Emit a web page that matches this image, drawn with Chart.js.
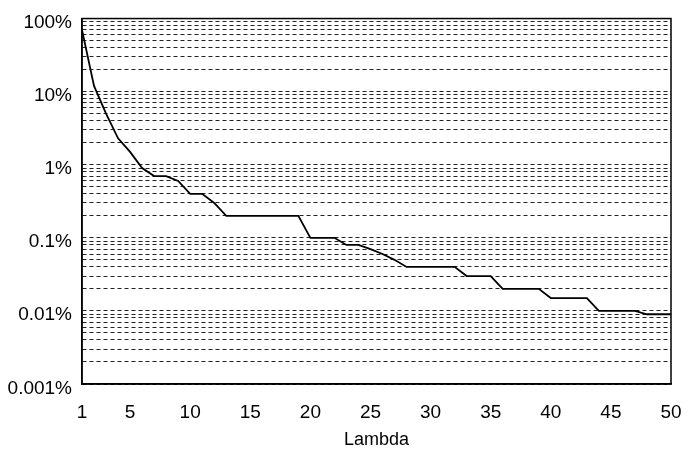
<!DOCTYPE html>
<html>
<head>
<meta charset="utf-8">
<script src="https://cdn.jsdelivr.net/npm/chart.js@4/dist/chart.umd.min.js"></script>
<style>
  html, body { margin: 0; padding: 0; background: #fff; }
  #wrap { width: 689px; height: 452px; }
</style>
</head>
<body>
<div id="wrap"><canvas id="lambdaChart"></canvas></div>
<script>
// Lambda values on the x axis
var lambdas = [1, 2, 3, 4, 5, 6, 7, 8, 9, 10,
    11, 12, 13, 14, 15, 16, 17, 18, 19, 20,
    21, 22, 23, 24, 25, 26, 27, 28, 29, 30,
    31, 32, 33, 34, 35, 36, 37, 38, 39, 40,
    41, 42, 43, 44, 45, 46, 47, 48, 49, 50];

// curve values, in percent
var percents = [70, 12, 5, 2.3, 1.5, 0.9, 0.7, 0.7, 0.6, 0.4,
    0.4, 0.3, 0.2, 0.2, 0.2, 0.2, 0.2, 0.2, 0.2, 0.1,
    0.1, 0.1, 0.08, 0.08, 0.07, 0.06, 0.05, 0.04, 0.04, 0.04,
    0.04, 0.04, 0.03, 0.03, 0.03, 0.02, 0.02, 0.02, 0.02, 0.015,
    0.015, 0.015, 0.015, 0.01, 0.01, 0.01, 0.01, 0.009, 0.009, 0.009];

var xTicks = [1, 5, 10, 15, 20, 25, 30, 35, 40, 45, 50];
var yDecades = [0.001, 0.01, 0.1, 1, 10, 100];
var yDecadeLabels = ['0.001%', '0.01%', '0.1%', '1%', '10%', '100%'];

// gridlines at 1..9 of every decade
var yGridSteps = [1, 2, 3, 4, 5, 6, 7, 8, 9];

var points = lambdas.map(function (l, i) { return { x: l, y: percents[i] }; });

var frame = {
    id: 'frame',
    afterDraw: function (chart) {
        var a = chart.chartArea, c = chart.ctx;
        c.save();
        c.strokeStyle = '#000';
        c.lineWidth = 1.5;
        c.strokeRect(a.left, a.top, a.right - a.left, a.bottom - a.top);
        c.restore();
    }
};

var family = '"Liberation Sans", Arial, sans-serif';

new Chart(document.getElementById('lambdaChart').getContext('2d'), {
    type: 'line',
    data: {
        datasets: [{
            data: points,
            borderColor: '#000',
            borderWidth: 1.8,
            pointRadius: 0,
            tension: 0,
            fill: false
        }]
    },
    options: {
        responsive: true,
        maintainAspectRatio: false,
        animation: false,
        layout: { padding: { top: 18, right: 18, left: 0, bottom: 0 } },
        plugins: {
            legend: { display: false },
            tooltip: { enabled: false }
        },
        scales: {
            x: {
                type: 'linear',
                min: 1,
                max: 50,
                afterBuildTicks: function (scale) {
                    scale.ticks = xTicks.map(function (v) { return { value: v }; });
                },
                afterFit: function (scale) {
                    scale.height = 68;
                    // tick padding gets added to the side padding, undo that
                    scale.paddingLeft = 0;
                    scale.paddingRight = 18;
                },
                grid: { display: false, drawTicks: false },
                border: { color: '#000', width: 1.5 },
                ticks: { color: '#000', font: { family: family, size: 19 }, padding: 17, maxRotation: 0 },
                title: {
                    display: true, text: 'Lambda', color: '#000',
                    font: { family: family, size: 18 }, padding: { top: 4, bottom: 1 }
                }
            },
            y: {
                type: 'logarithmic',
                min: 0.001,
                max: 100,
                afterBuildTicks: function (scale) {
                    var t = [];
                    for (var d = 0; d < yDecades.length - 1; d++) {
                        yGridSteps.forEach(function (s) { t.push({ value: yDecades[d] * s }); });
                    }
                    t.push({ value: 100 });
                    scale.ticks = t;
                },
                afterFit: function (scale) { scale.width = 82; },
                grid: { color: '#222', lineWidth: 1, drawTicks: false },
                border: { color: '#000', width: 1.5, dash: [4, 3] },
                ticks: {
                    color: '#000',
                    // small line height + leading empty line moves labels a few px below the gridline
                    font: { family: family, size: 19, lineHeight: 0.45 },
                    padding: 10,
                    autoSkip: false,
                    callback: function (v) {
                        for (var i = 0; i < yDecades.length; i++) {
                            if (Math.abs(v / yDecades[i] - 1) < 1e-6) return ['', yDecadeLabels[i]];
                        }
                        return '';
                    }
                }
            }
        }
    },
    plugins: [frame]
});
</script>
</body>
</html>
